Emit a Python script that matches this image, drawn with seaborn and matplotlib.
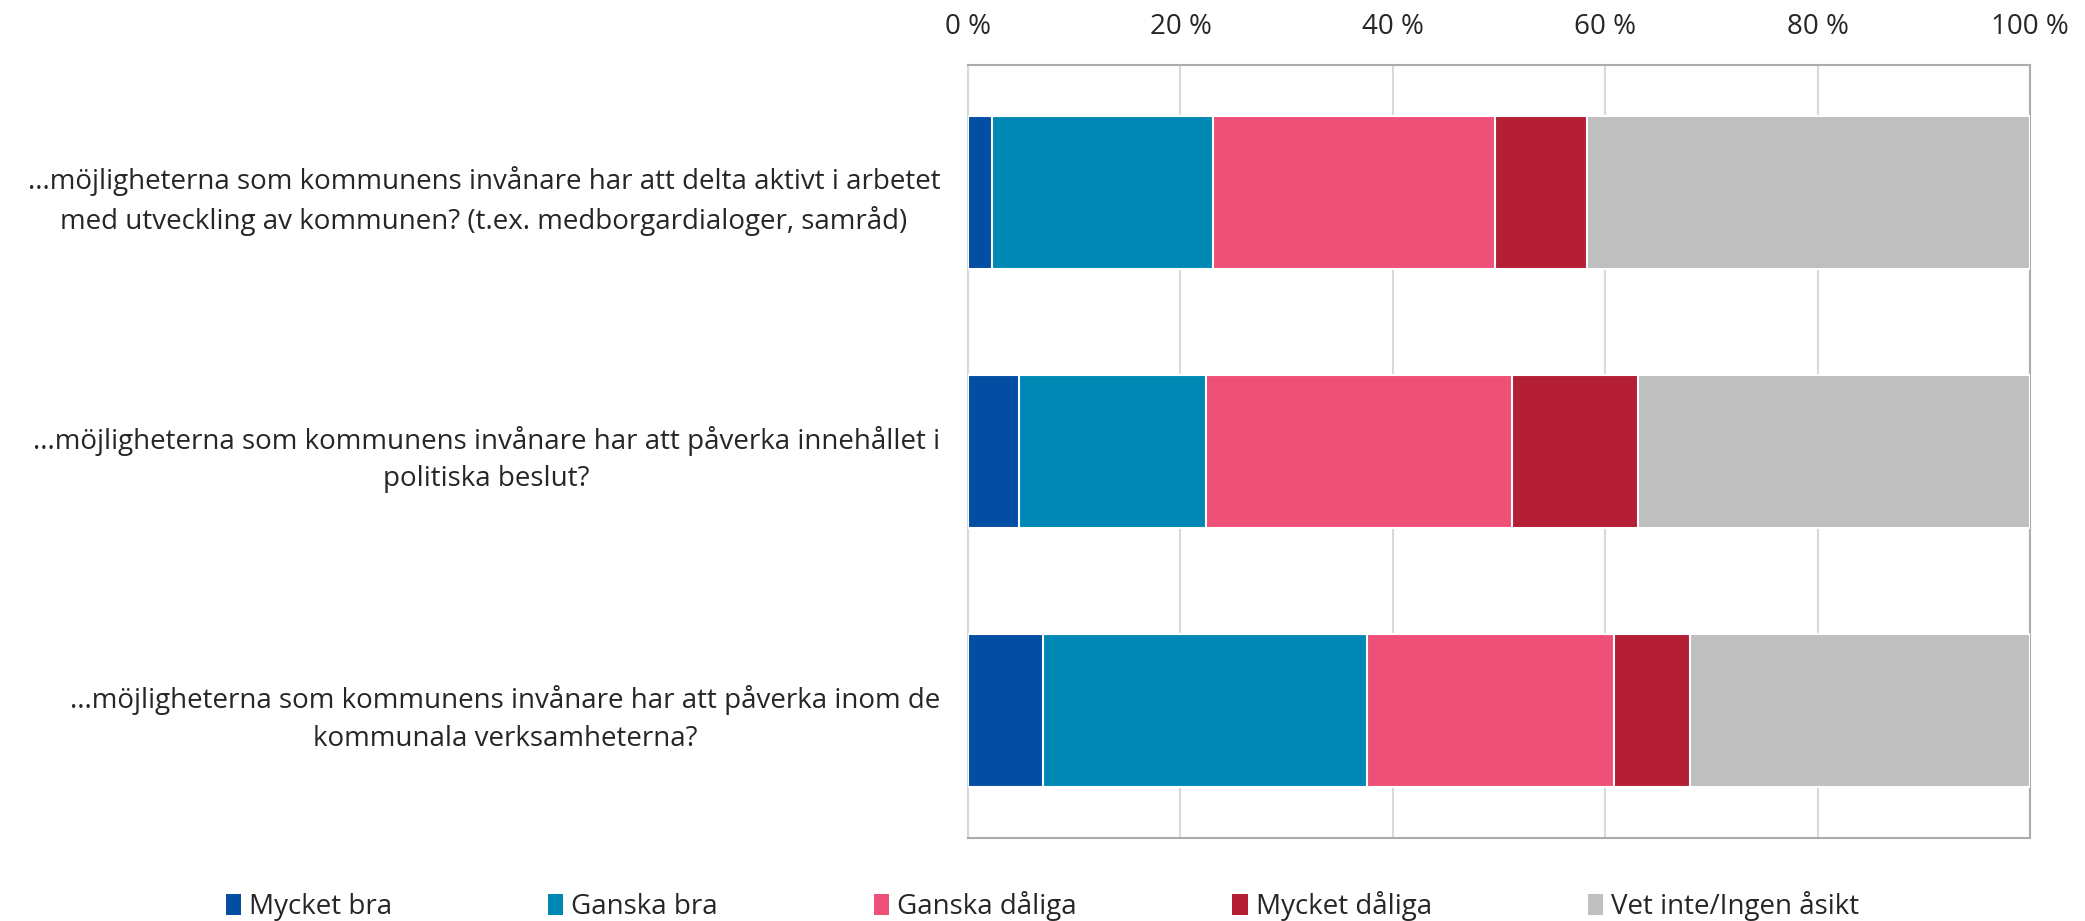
import pandas as pd
import matplotlib.pyplot as plt
import seaborn as sns
from matplotlib.patches import Patch

# Frågor (y-axeln)
questions = [
    '...möjligheterna som kommunens invånare har att delta aktivt i arbetet\nmed utveckling av kommunen? (t.ex. medborgardialoger, samråd)',
    '...möjligheterna som kommunens invånare har att påverka innehållet i\npolitiska beslut?',
    '...möjligheterna som kommunens invånare har att påverka inom de\nkommunala verksamheterna?',
]

# Svarsalternativ och andelar i procent
answers = ['Mycket bra', 'Ganska bra', 'Ganska dåliga', 'Mycket dåliga', 'Vet inte/Ingen åsikt']
mycket_bra = [2.3, 4.8, 7.1]
ganska_bra = [20.8, 17.6, 30.5]
ganska_daliga = [26.5, 28.8, 23.2]
mycket_daliga = [8.7, 11.9, 7.2]
vet_inte = [41.7, 36.9, 32.0]

colors = ['#034EA2', '#0088B4', '#EF5078', '#B51F35', '#BFBFBF']
xticks = [0, 20, 40, 60, 80, 100]

sns.set_style('white')
plt.rcParams['font.family'] = ['Open Sans', 'DejaVu Sans']

df = pd.DataFrame({
    'Fråga': questions,
    'Mycket bra': mycket_bra,
    'Ganska bra': ganska_bra,
    'Ganska dåliga': ganska_daliga,
    'Mycket dåliga': mycket_daliga,
    'Vet inte/Ingen åsikt': vet_inte,
})
cum = df[answers].cumsum(axis=1)
cum['Fråga'] = questions

fig = plt.figure(figsize=(20.85, 9.21), dpi=100)
ax = fig.add_axes([0.4643, 0.0901, 0.5093, 0.8393])

# Staplade staplar: rita kumulativa summor bakifrån
for ans, col in reversed(list(zip(answers, colors))):
    sns.barplot(data=cum, x=ans, y='Fråga', order=questions, orient='h',
                color=col, width=0.59, edgecolor='white', linewidth=1.5,
                saturation=1, ax=ax, zorder=3)

ax.set_xlim(0, 100)
ax.set_ylim(2.49, -0.49)
ax.set_xticks(xticks)
ax.set_xticklabels([f'{t} %' for t in xticks])
ax.xaxis.tick_top()
ax.set_xlabel('')
ax.set_ylabel('')
ax.tick_params(axis='x', length=0, pad=17, labelsize=20)
ax.tick_params(axis='y', length=0, pad=20, labelsize=20)
for lab in ax.get_yticklabels():
    lab.set_multialignment('center')
    lab.set_linespacing(1.45)

ax.grid(axis='x', color='#D9D9D9', linewidth=1.5, zorder=0)
ax.set_axisbelow(True)
for side in ['top', 'bottom', 'right']:
    ax.spines[side].set_color('#ABABAB')
    ax.spines[side].set_linewidth(1.5)
ax.spines['left'].set_color('#D9D9D9')
ax.spines['left'].set_linewidth(1.5)

handles = [Patch(facecolor=c, edgecolor='none') for c in colors]
fig.legend(handles, answers, loc='lower center', bbox_to_anchor=(0.5, -0.027),
           ncol=5, frameon=False, fontsize=20, handlelength=0.55, handleheight=0.8,
           handletextpad=0.3, columnspacing=5.6)

fig.savefig('out.png', dpi=100)
